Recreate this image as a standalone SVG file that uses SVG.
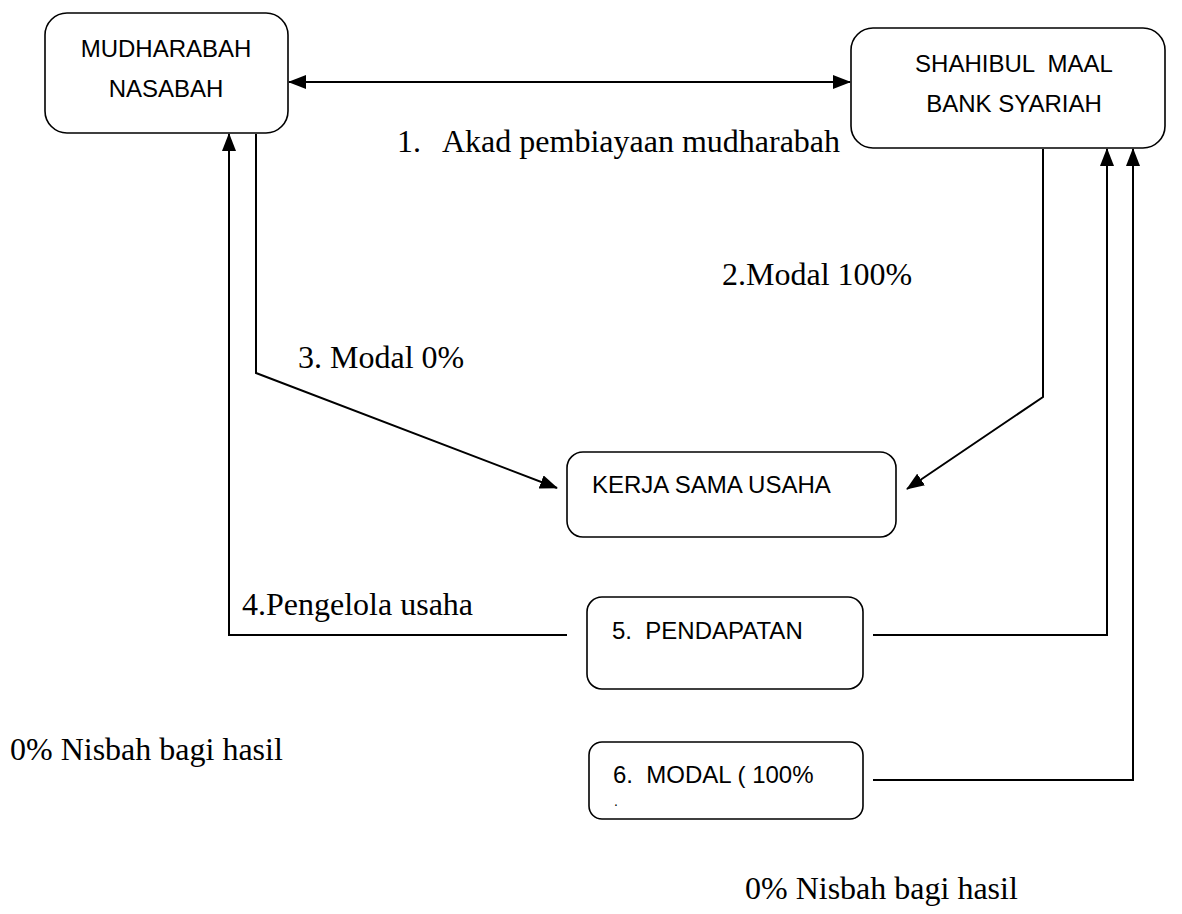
<svg xmlns="http://www.w3.org/2000/svg" width="1182" height="914" viewBox="0 0 1182 914">
<style>
.box{fill:#fff;stroke:#000;stroke-width:1.6}
.bt{font-family:"Liberation Sans",Arial,sans-serif;font-size:24px;fill:#000;white-space:pre}
.lt{font-family:"Liberation Serif","Times New Roman",serif;font-size:32px;fill:#000;white-space:pre}
.ln{fill:none;stroke:#000;stroke-width:2}
</style>
<defs>
<marker id="ah" markerUnits="userSpaceOnUse" markerWidth="18" markerHeight="14" refX="17" refY="7" orient="auto-start-reverse" viewBox="0 0 18 14">
<path d="M0,0 L18,7 L0,14 z" fill="#000"/>
</marker>
</defs>
<rect width="1182" height="914" fill="#fff"/>
<g id="connectors">
<line class="ln" x1="289" y1="82" x2="850" y2="82" marker-start="url(#ah)" marker-end="url(#ah)"/>
<polyline class="ln" points="256,134 256,373 557,488" marker-end="url(#ah)"/>
<polyline class="ln" points="1043,149 1043,397 907,489" marker-end="url(#ah)"/>
<polyline class="ln" points="567,635 229,635 229,134" marker-end="url(#ah)"/>
<polyline class="ln" points="873,635 1107,635 1107,149" marker-end="url(#ah)"/>
<polyline class="ln" points="873,780 1133,780 1133,149" marker-end="url(#ah)"/>
</g>
<g id="mudharabah">
<rect class="box" x="45" y="13" width="243" height="120" rx="22"/>
<text class="bt" x="166" y="57" text-anchor="middle">MUDHARABAH</text>
<text class="bt" x="166" y="97" text-anchor="middle">NASABAH</text>
</g>
<g id="shahibul">
<rect class="box" x="851" y="28" width="314" height="120" rx="22"/>
<text class="bt" x="1014" y="72" text-anchor="middle">SHAHIBUL  MAAL</text>
<text class="bt" x="1014" y="112" text-anchor="middle">BANK SYARIAH</text>
</g>
<g id="kerjasama">
<rect class="box" x="567" y="452" width="329" height="85" rx="16"/>
<text class="bt" x="592" y="493">KERJA SAMA USAHA</text>
</g>
<g id="pendapatan">
<rect class="box" x="587" y="597" width="276" height="92" rx="15"/>
<text class="bt" x="612" y="639">5.  PENDAPATAN</text>
</g>
<g id="modal">
<rect class="box" x="589" y="742" width="274" height="77" rx="13"/>
<text class="bt" x="613" y="783">6.  MODAL ( 100%</text>
<text class="bt" x="614" y="806" style="font-size:14px">.</text>
</g>
<g id="labels">
<text class="lt" x="397" y="152">1.<tspan x="442">Akad pembiayaan mudharabah</tspan></text>
<text class="lt" x="722" y="285">2.Modal 100%</text>
<text class="lt" x="298" y="368">3. Modal 0%</text>
<text class="lt" x="242" y="615">4.Pengelola usaha</text>
<text class="lt" x="10" y="760">0% Nisbah bagi hasil</text>
<text class="lt" x="745" y="899">0% Nisbah bagi hasil</text>
</g>
</svg>
